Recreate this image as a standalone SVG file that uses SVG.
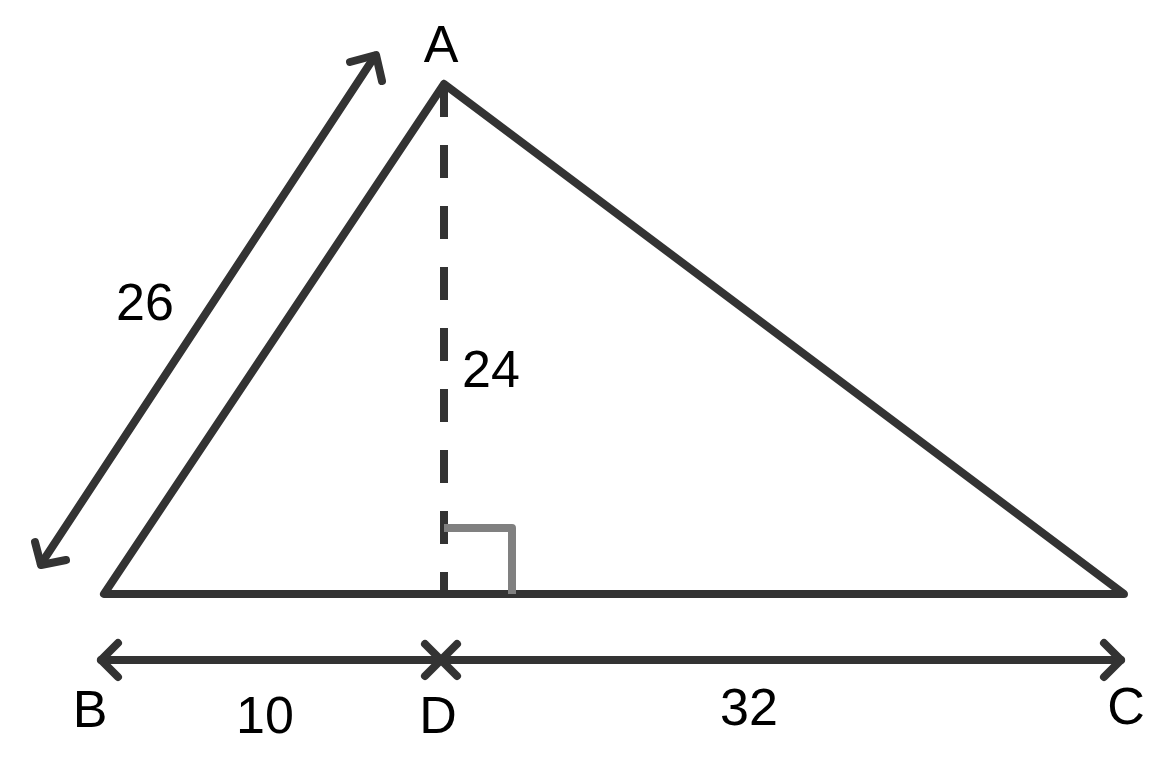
<svg xmlns="http://www.w3.org/2000/svg" width="1156" height="758" viewBox="0 0 1156 758">
<style>
.l{stroke:#333;stroke-width:8;fill:none;stroke-linecap:round;stroke-linejoin:round}
.t{font-family:"Liberation Sans",Arial,sans-serif;font-size:52px;fill:#000;text-anchor:middle}
</style>
<rect width="1156" height="758" fill="#fff"/>
<g id="triangle">
<polyline class="l" points="444,84 104,594 1124,594 444,84"/>
</g>
<g id="connectors">
<line x1="444" y1="84" x2="444" y2="594" stroke="#333" stroke-width="8" stroke-dasharray="33,28"/>
<polyline points="444,528 512,528 512,594" fill="none" stroke="#808080" stroke-width="8" stroke-linejoin="round"/>
<line class="l" x1="375" y1="56" x2="41" y2="564"/>
<polyline class="l" points="350,62 376,55 382,81"/>
<polyline class="l" points="35,542 41,565 66,560"/>
<line class="l" x1="101" y1="660" x2="1121" y2="660"/>
<polyline class="l" points="118,643 101,660 118,677"/>
<polyline class="l" points="1104,643 1121,660 1104,677"/>
<line class="l" x1="425" y1="644" x2="457" y2="676"/>
<line class="l" x1="457" y1="644" x2="425" y2="676"/>
</g>
<g id="labels">
<text class="t" x="441" y="62">A</text>
<text class="t" x="145" y="320">26</text>
<text class="t" x="491" y="387">24</text>
<text class="t" x="90" y="727">B</text>
<text class="t" x="265" y="733">10</text>
<text class="t" x="438" y="733">D</text>
<text class="t" x="749" y="725">32</text>
<text class="t" x="1126" y="724">C</text>
</g>
</svg>
